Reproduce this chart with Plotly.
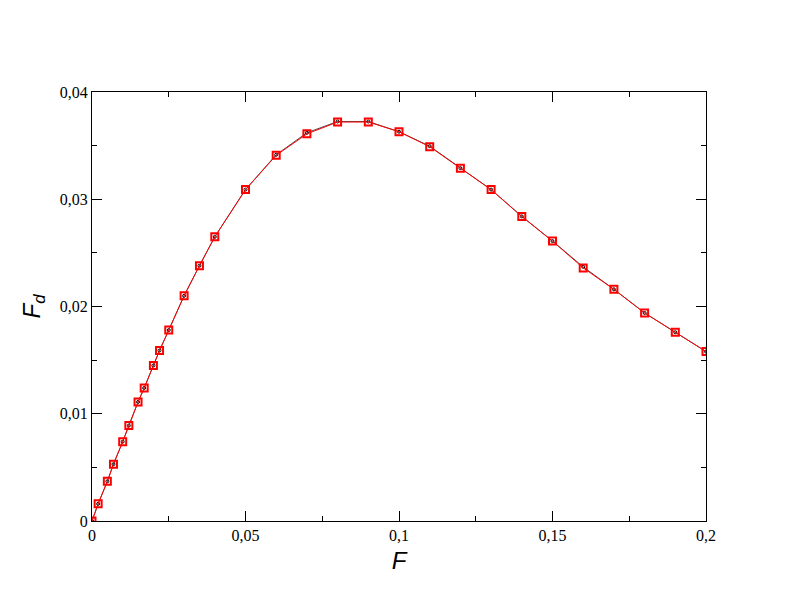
import plotly.graph_objects as go

F = [0, 0.002, 0.005, 0.007, 0.01, 0.012, 0.015, 0.017, 0.02, 0.022, 0.025,
     0.03, 0.035, 0.04, 0.05, 0.06, 0.07, 0.08, 0.09, 0.1, 0.11, 0.12, 0.13,
     0.14, 0.15, 0.16, 0.17, 0.18, 0.19, 0.2]
Fd_red = [0, 0.0016, 0.0037, 0.0053, 0.0074, 0.0089, 0.0111, 0.0124, 0.0145,
          0.0159, 0.0178, 0.0210, 0.0238, 0.0265, 0.0309, 0.0341, 0.0361,
          0.0372, 0.0372, 0.0363, 0.0349, 0.0329, 0.0309, 0.0284, 0.0261,
          0.0236, 0.0216, 0.0194, 0.0176, 0.0158]
Fd_black = [0, 0.0016, 0.0037, 0.0053, 0.0074, 0.0089, 0.0111, 0.0124, 0.0145,
            0.0159, 0.0178, 0.0210, 0.0238, 0.0265, 0.0309, 0.03415, 0.0362,
            0.03725, 0.03725, 0.0363, 0.03495, 0.0329, 0.0309, 0.0284, 0.0261,
            0.0237, 0.0216, 0.0194, 0.0176, 0.0158]

fig = go.Figure()
fig.add_trace(go.Scatter(x=F, y=Fd_black, mode="lines+markers",
                         line=dict(color="black", width=0.7),
                         marker=dict(symbol="circle-open", size=3, color="black",
                                     line=dict(width=1, color="black")),
                         showlegend=False))
fig.add_trace(go.Scatter(x=F, y=Fd_red, mode="lines+markers",
                         line=dict(color="#ff0000", width=1),
                         marker=dict(symbol="square-open", size=7, color="#ff0000",
                                     line=dict(width=2, color="#ff0000")),
                         showlegend=False))

serif = "Liberation Serif, DejaVu Serif, serif"
sans = "Liberation Sans"

axis_common = dict(showgrid=False, zeroline=False, showline=True, linecolor="black",
                   linewidth=1, mirror="allticks", ticks="inside", ticklen=10,
                   tickcolor="black", tickwidth=1)

fig.update_xaxes(range=[0, 0.2], dtick=0.05, tick0=0,
                 tickfont=dict(family=serif, size=16, color="black"),
                 minor=dict(dtick=0.025, ticks="inside", ticklen=5, tickcolor="black"),
                 title=dict(text="<i>F</i>", font=dict(family=sans, size=24, color="black"),
                            standoff=8),
                 **axis_common)
fig.update_yaxes(range=[0, 0.04], dtick=0.01, tick0=0,
                 tickfont=dict(family=serif, size=16, color="black"),
                 minor=dict(dtick=0.005, ticks="inside", ticklen=5, tickcolor="black"),
                 title=dict(text="<i>F</i><sub><i>d</i></sub>", font=dict(family=sans, size=24, color="black"),
                            standoff=12),
                 **axis_common)

fig.update_layout(width=792, height=612, separators=", ",
                  font=dict(family=serif, size=16, color="black"),
                  plot_bgcolor="white", paper_bgcolor="white",
                  margin=dict(l=84, r=94, t=84, b=99, autoexpand=False))

fig.write_html("out.html")
